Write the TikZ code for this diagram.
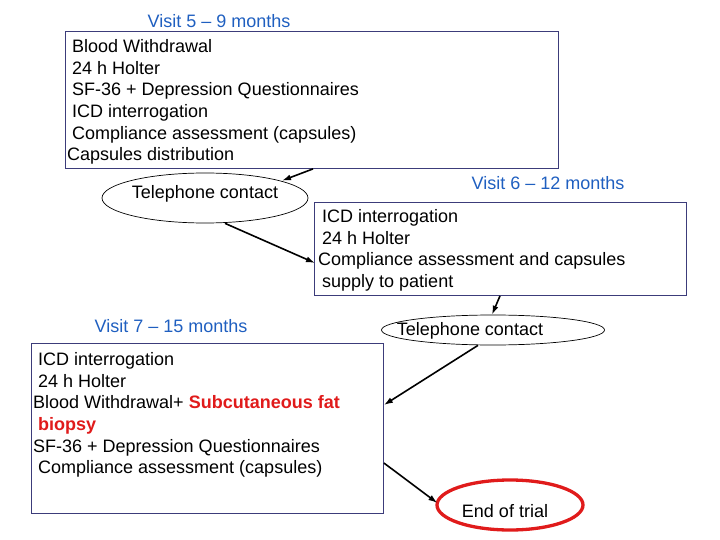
\documentclass[tikz,border=0pt]{standalone}
\usepackage{fontspec}
\setmainfont{Liberation Sans}
\usetikzlibrary{calc,shapes.geometric,arrows.meta}
\definecolor{visitblue}{HTML}{1F5FC0}
\definecolor{boxline}{HTML}{3C3C7A}
\definecolor{redfat}{HTML}{E01B1B}
\begin{document}
\begin{tikzpicture}[x=1pt,y=-1pt,
  every node/.style={font=\fontsize{18}{21.6}\selectfont, inner sep=0pt},
  visitbox/.style={draw=boxline, line width=0.9pt, rectangle, anchor=north west},
  title/.style={text=visitblue},
  lines/.style={align=left, anchor=north west},
  phone/.style={draw, ellipse, line width=0.7pt},
  conn/.style={-{Latex[length=9pt,width=6pt]}, line width=1.6pt}]
\useasboundingbox (0,0) rectangle (720,540);
% Visit 5
\node[title] (t1) at (219,21) {Visit 5 – 9 months};
\node[visitbox, minimum width=493pt, minimum height=137pt] (box1) at (65,31) {};
\node[lines] (l1) at (67,37.4) {\strut\hspace*{5pt}Blood Withdrawal\\
\hspace*{5pt}24 h Holter\\
\hspace*{5pt}SF-36 + Depression Questionnaires\\
\hspace*{5pt}ICD interrogation\\
\hspace*{5pt}Compliance assessment (capsules)\\
Capsules distribution};
% Telephone 1
\node[phone, minimum width=206pt, minimum height=50pt] (e1) at (205,198) {};
\node (e1t) at (205,194) {Telephone contact};
% Visit 6
\node[title] (t2) at (548,183) {Visit 6 – 12 months};
\node[visitbox, minimum width=372pt, minimum height=93pt] (box2) at (314,202) {};
\node[lines] (l2) at (318,207.4) {\strut\hspace*{4pt}ICD interrogation\\
\hspace*{4pt}24 h Holter\\
Compliance assessment and capsules\\
\hspace*{4pt}supply to patient};
% Telephone 2
\node[phone, minimum width=223pt, minimum height=30pt] (e2) at (493,330) {};
\node (e2t) at (470,331) {Telephone contact};
% Visit 7
\node[title] (t3) at (171,326) {Visit 7 – 15 months};
\node[visitbox, minimum width=352pt, minimum height=170pt] (box3) at (31,343) {};
\node[lines] (l3) at (33,350.4) {\strut\hspace*{5pt}ICD interrogation\\
\hspace*{5pt}24 h Holter\\
Blood Withdrawal+ \textbf{\color{redfat}Subcutaneous fat}\\
\hspace*{5pt}\textbf{\color{redfat}biopsy}\\
SF-36 + Depression Questionnaires\\
\hspace*{5pt}Compliance assessment (capsules)};
% End
\node[draw=redfat, ellipse, line width=3.3pt, minimum width=146pt, minimum height=50pt] (end) at (510,505) {};
\node (endt) at (505,511) {End of trial};
% connectors
\draw[conn] ($(box1.south west)+(248,0)$) -- ($(e1.north)+(77,8)$);
\draw[conn] ($(e1.south)+(20,0)$) -- ($(box2.north west)+(1,61)$);
\draw[conn] ($(box2.south west)+(186,0)$) -- ($(e2.north)+(-1,0)$);
\draw[conn] ($(e2.south)+(-15,0)$) -- ($(box3.north east)+(0,62)$);
\draw[conn] ($(box3.north east)+(0,120)$) -- ($(end.west)+(2,-2)$);
\end{tikzpicture}
\end{document}
